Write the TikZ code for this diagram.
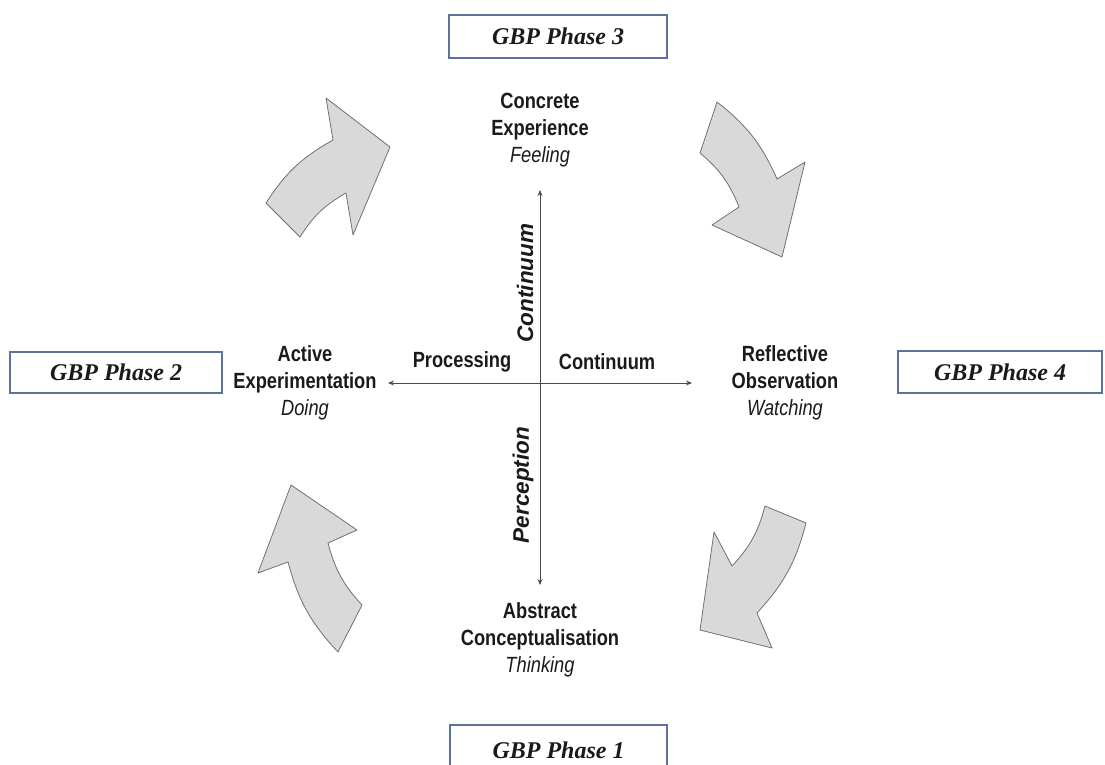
\documentclass[tikz,border=0pt]{standalone}
\usepackage{fontspec}
\setmainfont{Liberation Sans}
\newfontfamily\narrowf[FakeStretch=0.83]{Liberation Sans}
\newfontfamily\phasefont{Liberation Serif}
\usetikzlibrary{arrows.meta}
\definecolor{boxblue}{HTML}{5B7497}
\definecolor{arrowfill}{HTML}{D9D9D9}
\definecolor{arrowline}{HTML}{707070}
\definecolor{inktext}{HTML}{1A1A1A}
\definecolor{axisgray}{HTML}{4A4A4A}
\begin{document}
\begin{tikzpicture}[x=1pt,y=-1pt,
  phasebox/.style={draw=boxblue, line width=1.4pt, inner sep=0pt,
    font=\phasefont\bfseries\itshape\fontsize{24}{28}\selectfont, text=inktext},
  mode/.style={align=center, text=inktext,
    font=\narrowf\bfseries\fontsize{22}{27}\selectfont},
  axlabel/.style={text=inktext, inner sep=0pt,
    font=\narrowf\bfseries\fontsize{22}{27}\selectfont},
  vlabel/.style={text=inktext, inner sep=0pt, rotate=90,
    font=\bfseries\itshape\fontsize{22.5}{27}\selectfont},
  axisline/.style={draw=axisgray, line width=0.9pt,
    {Stealth[length=6pt,width=5pt]}-{Stealth[length=6pt,width=5pt]}},
  bigarrow/.style={fill=arrowfill, draw=arrowline, line width=0.8pt, line join=round}
]
\useasboundingbox (0,0) rectangle (1105,764);
\clip (0,0) rectangle (1105,764);

% phase boxes
\node[phasebox, minimum width=218pt, minimum height=43pt] (P3) at (558,36.5) {GBP Phase 3};
\node[phasebox, minimum width=212pt, minimum height=41pt] (P2) at (116,372.5) {GBP Phase 2};
\node[phasebox, minimum width=204pt, minimum height=42pt] (P4) at (1000,372) {GBP Phase 4};
\draw[draw=boxblue, line width=1.4pt] (450,790) -- (450,725) -- (667,725) -- (667,790);
\node[font=\phasefont\bfseries\itshape\fontsize{24}{28}\selectfont, text=inktext] (P1) at (558.5,750) {GBP Phase 1};

% mode labels
\node[mode] (CE) at (540,130) {Concrete\\Experience\\{\mdseries\itshape Feeling}};
\node[mode] (AE) at (305,383) {Active\\Experimentation\\{\mdseries\itshape Doing}};
\node[mode] (RO) at (785,383) {Reflective\\Observation\\{\mdseries\itshape Watching}};
\node[mode] (AC) at (540,640) {Abstract\\Conceptualisation\\{\mdseries\itshape Thinking}};

% axes
\coordinate (axT) at (540,190);
\coordinate (axB) at (540,585);
\coordinate (axL) at (388,383);
\coordinate (axR) at (692,383);
\draw[axisline] (axL) -- (axR);
\draw[axisline] (axB) -- (axT);

\node[axlabel] (proc) at (462,362) {Processing};
\node[axlabel] (cont) at (607,362) {Continuum};
\node[vlabel] (vcont) at (525,283) {Continuum};
\node[vlabel] (perc) at (523,485) {Perception};

% curved block arrows
\path[bigarrow] (266,203) -- (300,237) to[bend left=14] (346,193) -- (353,235)
  -- (390,147) -- (326,98) -- (333,140) to[bend right=14] (266,203) -- cycle;
\path[bigarrow] (717,102) -- (700,153) to[bend left=14] (739,207) -- (712,225)
  -- (782,257) -- (805,162) -- (777,179) to[bend right=14] (717,102) -- cycle;
\path[bigarrow] (765,506) -- (806,523) to[bend left=14] (757,613) -- (772,648)
  -- (700,630) -- (714,532) -- (732,566) to[bend right=14] (765,506) -- cycle;
\path[bigarrow] (362,605) -- (338,652) to[bend left=14] (288,562) -- (258,573)
  -- (291,485) -- (357,530) -- (328,543) to[bend right=14] (362,605) -- cycle;
\end{tikzpicture}
\end{document}
